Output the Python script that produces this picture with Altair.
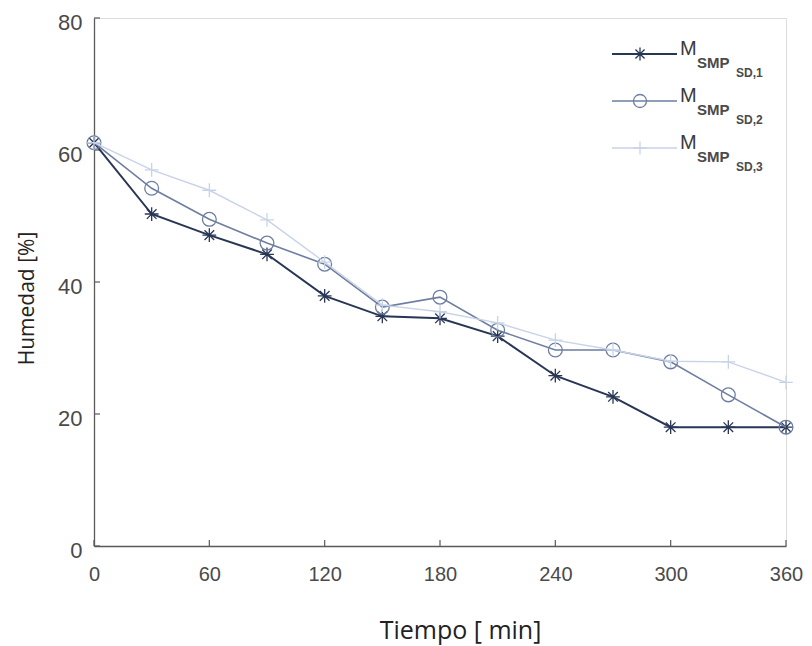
import altair as alt
import pandas as pd

tiempo = [0, 30, 60, 90, 120, 150, 180, 210, 240, 270, 300, 330, 360]
sd1 = [61.1, 50.3, 47.1, 44.2, 37.9, 34.8, 34.5, 31.8, 25.8, 22.6, 18.0, 18.0, 18.0]
sd2 = [61.1, 54.2, 49.5, 45.9, 42.7, 36.2, 37.7, 32.7, 29.7, 29.7, 27.9, 22.9, 18.0]
sd3 = [61.1, 57.0, 53.9, 49.4, 43.0, 36.5, 35.5, 33.8, 31.2, 29.7, 28.0, 27.9, 24.8]
series = ["SD,1", "SD,2", "SD,3"]
colors = ["#283655", "#6d7ea0", "#c8d3e8"]
x_ticks = [0, 60, 120, 180, 240, 300, 360]
y_ticks = [0, 20, 40, 60, 80]

W, H = 692, 528

rows = []
for name, vals in zip(series, [sd1, sd2, sd3]):
    for t, v in zip(tiempo, vals):
        rows.append({"t": t, "h": v, "s": name})
df = pd.DataFrame(rows)

asterisk = "M-1,0L1,0M0,-1L0,1M-0.7,-0.7L0.7,0.7M-0.7,0.7L0.7,-0.7"
plus = "M-1,0L1,0M0,-1L0,1"
shapes = [asterisk, "circle", plus]
widths = [2.0, 1.6, 1.4]

xs = alt.Scale(domain=[0, 360], nice=False)
ys = alt.Scale(domain=[0, 80], nice=False)
font = "Liberation Sans"

xaxis = alt.Axis(values=x_ticks, title="Tiempo [ min]", ticks=False, grid=False,
                 domainColor="#5a5a5a", domainWidth=1.3, labelFontSize=20,
                 labelColor="#4a4a4a", labelFont=font, labelPadding=18,
                 titleFont="Open Sans", titleFontSize=25, titleFontWeight="normal",
                 titleColor="#222222", titlePadding=34, titleX=366, labelFlush=False)
yaxis = alt.Axis(values=y_ticks, title="Humedad [%]", ticks=False, grid=False,
                 domainColor="#5a5a5a", domainWidth=1.3, labelFontSize=22,
                 labelColor="#4a4a4a", labelFont=font, labelPadding=12, labelOffset=4,
                 titleFont="Open Sans", titleFontSize=21, titleFontWeight="normal",
                 titleColor="#222222", titlePadding=20, titleY=280)

layers = []
base_axes = alt.Chart(df).mark_point(opacity=0).encode(
    x=alt.X("t:Q", scale=xs, axis=xaxis),
    y=alt.Y("h:Q", scale=ys, axis=yaxis),
)
layers.append(base_axes)

# inward ticks
xt = alt.Chart(pd.DataFrame({"v": x_ticks})).mark_rule(color="#5a5a5a", strokeWidth=1.2).encode(
    x=alt.X("v:Q", scale=xs), y=alt.value(H), y2=alt.value(H - 6))
yt = alt.Chart(pd.DataFrame({"v": y_ticks})).mark_rule(color="#5a5a5a", strokeWidth=1.2).encode(
    y=alt.Y("v:Q", scale=ys), x=alt.value(0), x2=alt.value(6))
layers += [xt, yt]

for i, name in enumerate(series):
    d = df[df.s == name]
    line = alt.Chart(d).mark_line(color=colors[i], strokeWidth=widths[i]).encode(
        x=alt.X("t:Q", scale=xs), y=alt.Y("h:Q", scale=ys))
    pts = alt.Chart(d).mark_point(shape=shapes[i], filled=False, color=colors[i],
                                  size=190, strokeWidth=1.3, opacity=1).encode(
        x=alt.X("t:Q", scale=xs), y=alt.Y("h:Q", scale=ys))
    layers += [line, pts]

# legend
leg = pd.DataFrame({"k": [0]})
lx0, lx1 = 518, 583
for i, name in enumerate(series):
    ly = 36 + 47 * i
    layers.append(alt.Chart(leg).mark_rule(color=colors[i], strokeWidth=widths[i]).encode(
        x=alt.value(lx0), x2=alt.value(lx1), y=alt.value(ly)))
    layers.append(alt.Chart(leg).mark_point(shape=shapes[i], filled=False, color=colors[i],
                                            size=170, strokeWidth=1.3, opacity=1).encode(
        x=alt.value(546), y=alt.value(ly)))
    layers.append(alt.Chart(leg).mark_text(text="M", font=font, fontSize=20, color="#3a3a3a",
                                           align="left", baseline="alphabetic").encode(
        x=alt.value(586), y=alt.value(ly + 1)))
    layers.append(alt.Chart(leg).mark_text(text="SMP", font=font, fontSize=15, fontWeight="bold",
                                           color="#4a4a4a", align="left", baseline="alphabetic").encode(
        x=alt.value(603), y=alt.value(ly + 14)))
    layers.append(alt.Chart(leg).mark_text(text=name, font=font, fontSize=12, fontWeight="bold",
                                           color="#4a4a4a", align="left", baseline="alphabetic").encode(
        x=alt.value(642), y=alt.value(ly + 23)))

chart = alt.layer(*layers).properties(
    width=W, height=H,
    autosize=alt.AutoSizeParams(type="none"),
    padding={"left": 86, "top": 10, "right": 18, "bottom": 100},
).configure_view(stroke=None).configure(background="white")

chart.save("out.html", embed_options={"renderer": "svg", "actions": False})
